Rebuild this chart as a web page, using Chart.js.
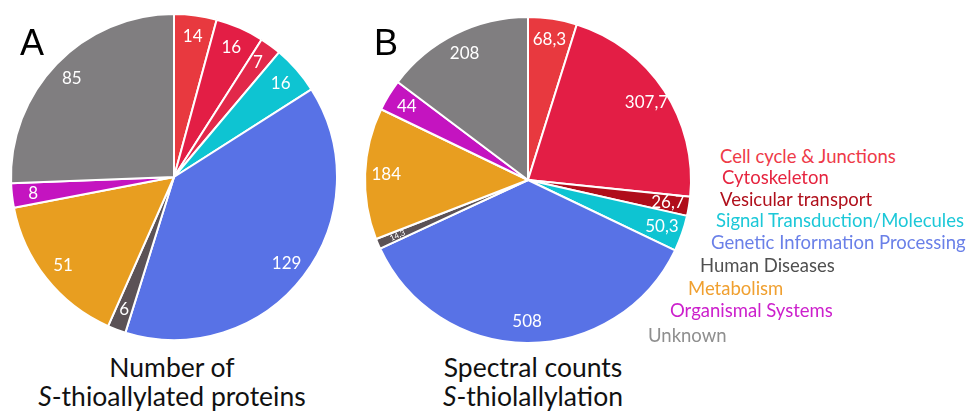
<!DOCTYPE html>
<html>
<head>
<meta charset="utf-8">
<script src="https://cdn.jsdelivr.net/npm/chart.js@4/dist/chart.umd.min.js"></script>
<style>
  html, body { margin: 0; padding: 0; background: #fff; }
  body { width: 968px; height: 412px; position: relative; overflow: hidden; font-family: Lato, "Open Sans", sans-serif; }
  .pie { position: absolute; width: 340px; height: 340px; }
  #pieA { left: 4px; top: 7px; }
  #pieB { left: 358px; top: 10px; }
  .panel { position: absolute; font-family: "Liberation Sans", Arial, sans-serif; font-size: 36px; color: #000; line-height: 1; }
  .title { position: absolute; font-size: 26.5px; line-height: 29px; color: #111; text-align: center; white-space: nowrap; }
  .title i { font-style: italic; }
  #legend { position: absolute; left: 0; top: 0; }
  #legend div { position: absolute; font-size: 18.5px; white-space: nowrap; line-height: 1; }
</style>
</head>
<body>
<canvas id="pieA" class="pie" width="340" height="340"></canvas>
<canvas id="pieB" class="pie" width="340" height="340"></canvas>
<div class="panel" style="left:20px; top:25px;">A</div>
<div class="panel" style="left:374px; top:25px;">B</div>
<div class="title" style="left:22px; width:300px; top:353px;">Number of<br><i>S</i>-thioallylated proteins</div>
<div class="title" style="left:383px; width:300px; top:353px;">Spectral counts<br><i>S</i>-thiolallylation</div>
<div id="legend"></div>
<script>
// Functional categories (clockwise from 12 o'clock)
const categories = [
  'Cell cycle & Junctions',
  'Cytoskeleton',
  'Vesicular transport',
  'Signal Transduction/Molecules',
  'Genetic Information Processing',
  'Human Diseases',
  'Metabolism',
  'Organismal Systems',
  'Unknown'
];

// Panel A: number of S-thioallylated proteins per category
const proteinCounts = [14, 16, 7, 16, 129, 6, 51, 8, 85];

// Panel B: spectral counts of S-thiolallylation per category
const spectralCounts = [68.3, 307.7, 26.7, 50.3, 508, 14.3, 184, 44, 208];

// Slice fills
const sliceColorsA = ['#e8393f', '#e31e45', '#e2284a', '#0ec4d2', '#5872e6', '#5b5256', '#e89e20', '#c414c0', '#807e80'];
const sliceColorsB = ['#e8393f', '#e31e45', '#b00d1a', '#0ec4d2', '#5872e6', '#5b5256', '#e89e20', '#c414c0', '#807e80'];

// Legend text colours and placement
const legendColors = ['#ee3a48', '#e6243f', '#b0101c', '#1cc8d8', '#6a80e8', '#505050', '#f0a030', '#cc20cc', '#8f8f8f'];
const legendLeft = [720, 722, 720, 716, 711, 700, 688, 670, 648];
const legendTop = [147, 168, 190, 211, 233, 256, 279, 301, 326];

const fmt = v => String(v).replace('.', ',');

// Draws each value inside its slice, near the rim
const sliceLabels = {
  id: 'sliceLabels',
  afterDatasetsDraw(chart) {
    const ctx = chart.ctx;
    const meta = chart.getDatasetMeta(0);
    const values = chart.data.datasets[0].data;
    meta.data.forEach((arc, i) => {
      const p = arc.getProps(['x', 'y', 'startAngle', 'endAngle', 'outerRadius'], true);
      const mid = (p.startAngle + p.endAngle) / 2;
      const span = p.endAngle - p.startAngle;
      const r = p.outerRadius * 0.87;
      const tx = p.x + Math.cos(mid) * r;
      const ty = p.y + Math.sin(mid) * r;
      ctx.save();
      ctx.fillStyle = '#ffffff';
      ctx.textAlign = 'center';
      ctx.textBaseline = 'middle';
      ctx.translate(tx, ty);
      if (span < 5 * Math.PI / 180) {
        // very thin slice: small text along the radius
        ctx.rotate(mid - Math.PI);
        ctx.font = '8px Lato, sans-serif';
      } else {
        ctx.font = '17px Lato, sans-serif';
      }
      ctx.fillText(fmt(values[i]), 0, 0);
      ctx.restore();
    });
  }
};

function makePie(id, values, colors) {
  return new Chart(document.getElementById(id), {
    type: 'pie',
    data: {
      labels: categories,
      datasets: [{
        data: values,
        backgroundColor: colors,
        borderColor: '#ffffff',
        borderWidth: 2,
        radius: 163
      }]
    },
    options: {
      responsive: false,
      animation: false,
      events: [],
      layout: { padding: 0 },
      plugins: { legend: { display: false }, tooltip: { enabled: false } }
    },
    plugins: [sliceLabels]
  });
}

makePie('pieA', proteinCounts, sliceColorsA);
makePie('pieB', spectralCounts, sliceColorsB);

// Category key to the right of panel B
const legend = document.getElementById('legend');
categories.forEach((name, i) => {
  const d = document.createElement('div');
  d.textContent = name;
  d.style.color = legendColors[i];
  d.style.left = legendLeft[i] + 'px';
  d.style.top = legendTop[i] + 'px';
  legend.appendChild(d);
});
</script>
</body>
</html>
